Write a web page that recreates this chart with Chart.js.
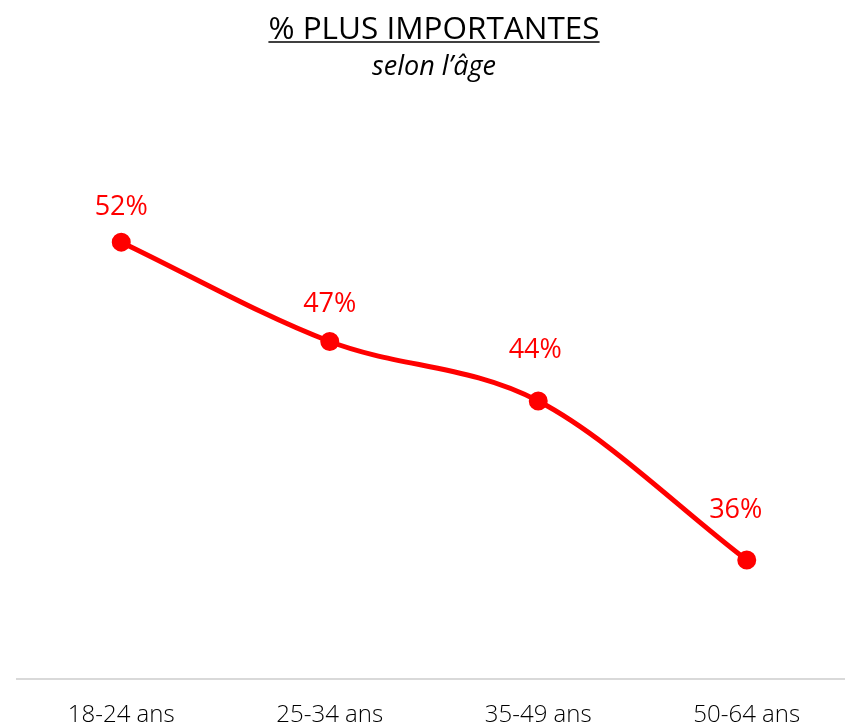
<!DOCTYPE html>
<html>
<head>
<meta charset="utf-8">
<script src="https://cdn.jsdelivr.net/npm/chart.js@4"></script>
<style>
  html, body { margin: 0; padding: 0; background: #fff; overflow: hidden; }
  #wrap { width: 845px; height: 726px; overflow: hidden; }
  canvas { display: block; }
</style>
</head>
<body>
<div id="wrap"><canvas id="ageChart" width="851" height="726"></canvas></div>
<script>
const categories = ["18-24 ans", "25-34 ans", "35-49 ans", "50-64 ans"];
const values = [52, 47, 44, 36];
const titleText = "% PLUS IMPORTANTES";
const subtitleText = "selon l\u2019âge";

/* underline under the chart title */
const titleUnderline = {
  id: "titleUnderline",
  afterDraw(chart) {
    const t = chart.titleBlock;
    if (!t) return;
    const ctx = chart.ctx;
    ctx.save();
    ctx.font = "31.5px 'Open Sans'";
    const w = ctx.measureText(titleText).width;
    const cx = (t.left + t.right) / 2;
    const y = t.top + 42;
    ctx.strokeStyle = "#000";
    ctx.lineWidth = 1.5;
    ctx.beginPath();
    ctx.moveTo(cx - w / 2, y);
    ctx.lineTo(cx + w / 2, y);
    ctx.stroke();
    ctx.restore();
  },
};

/* value labels above each point (nudged like the original so they clear the line) */
const pointLabels = {
  id: "pointLabels",
  afterDatasetsDraw(chart, args, opts) {
    const ctx = chart.ctx;
    const meta = chart.getDatasetMeta(0);
    ctx.save();
    ctx.font = "27px 'Open Sans'";
    ctx.fillStyle = "#ff0000";
    ctx.textAlign = "center";
    ctx.textBaseline = "middle";
    meta.data.forEach((pt, i) => {
      const [dx, dy] = opts.shift[i] || [0, -35];
      ctx.fillText(values[i] + "%", pt.x + dx, pt.y + dy);
    });
    ctx.restore();
  },
};

const ctx = document.getElementById("ageChart").getContext("2d");
new Chart(ctx, {
  type: "line",
  data: {
    labels: categories,
    datasets: [
      {
        data: values,
        borderColor: "#ff0000",
        backgroundColor: "#ff0000",
        borderWidth: 5,
        pointRadius: 7,
        pointHoverRadius: 7,
        cubicInterpolationMode: "monotone",
        fill: false,
      },
    ],
  },
  options: {
    responsive: false,
    animation: false,
    layout: { autoPadding: false, padding: { left: 17, right: 0, top: 0, bottom: -18 } },
    plugins: {
      legend: { display: false },
      tooltip: { enabled: false },
      pointLabels: { shift: [[0, -35], [0, -37], [-3, -51], [-11, -50]] },
      title: {
        display: true,
        text: titleText,
        color: "#000",
        font: { family: "'Open Sans'", size: 31.5, weight: "normal", lineHeight: 1.2 },
        padding: { top: 11, bottom: 1 },
      },
      subtitle: {
        display: true,
        text: subtitleText,
        color: "#000",
        font: { family: "'Open Sans'", size: 27, style: "italic", lineHeight: 1.2 },
        padding: { top: 1, bottom: 0 },
      },
    },
    scales: {
      x: {
        offset: true,
        grid: { display: false },
        border: { display: true, color: "#d9d9d9", width: 2 },
        ticks: {
          color: "#000",
          padding: 14,
          maxRotation: 0,
          font: { family: "'Open Sans'", size: 24, weight: "300" },
        },
      },
      y: {
        display: false,
        min: 30,
        max: 60,
      },
    },
  },
  plugins: [titleUnderline, pointLabels],
});
</script>
</body>
</html>
